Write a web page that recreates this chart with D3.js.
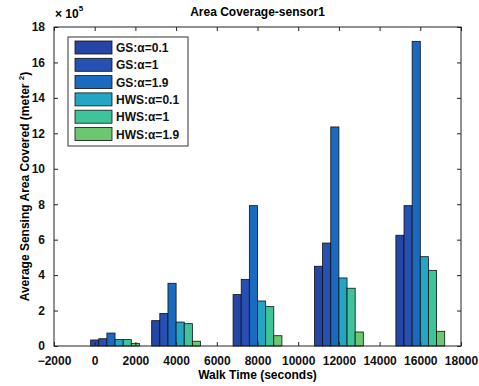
<!DOCTYPE html>
<html>
<head>
<meta charset="utf-8">
<script src="https://cdn.jsdelivr.net/npm/d3@7"></script>
<style>
  body { margin: 0; background: #fff; }
  text { font-family: "Liberation Sans", Arial, sans-serif; font-weight: bold; }
</style>
</head>
<body>
<script>
// Data (units of 1e5 m^2)
const walkTimes = [1000, 4000, 8000, 12000, 16000];
const seriesNames = ["GS:\u03b1=0.1", "GS:\u03b1=1", "GS:\u03b1=1.9", "HWS:\u03b1=0.1", "HWS:\u03b1=1", "HWS:\u03b1=1.9"];
const gs01  = [0.34, 1.43, 2.90, 4.50, 6.25];
const gs1   = [0.41, 1.84, 3.76, 5.81, 7.92];
const gs19  = [0.73, 3.54, 7.92, 12.36, 17.19];
const hws01 = [0.36, 1.35, 2.54, 3.84, 5.04];
const hws1  = [0.36, 1.26, 2.22, 3.26, 4.27];
const hws19 = [0.15, 0.27, 0.58, 0.79, 0.83];
const seriesValues = [gs01, gs1, gs19, hws01, hws1, hws19];
const xTicks = d3.range(-2000, 18001, 2000);
const yTicks = d3.range(0, 19, 2);
const colors = ["#2447a7", "#2650b2", "#1b6ac2", "#22a6c4", "#3ec39a", "#6cc870"];

const W = 479, H = 386;
const margin = { top: 27, right: 18, bottom: 40, left: 54 };
const width = W - margin.left - margin.right,
      height = H - margin.top - margin.bottom;

const svg = d3.select("body").append("svg")
    .attr("width", W).attr("height", H);

const g = svg.append("g")
    .attr("transform", `translate(${margin.left},${margin.top})`);

const x = d3.scaleLinear().domain([-2000, 18000]).range([0, width]);
const y = d3.scaleLinear().domain([0, 18]).range([height, 0]);

// grouped bars: group width 2400, each bar 400
const barW = 400;
const groupW = barW * seriesNames.length;

const rows = [];
walkTimes.forEach((t, i) => {
  seriesValues.forEach((vals, s) => {
    rows.push({ t, s, v: vals[i] });
  });
});

g.selectAll("rect.bar")
  .data(rows)
  .enter().append("rect")
  .attr("class", "bar")
  .attr("x", d => x(d.t - groupW / 2 + d.s * barW))
  .attr("width", d => x(barW) - x(0))
  .attr("y", d => y(d.v))
  .attr("height", d => y(0) - y(d.v))
  .attr("fill", d => colors[d.s])
  .attr("stroke", "#111")
  .attr("stroke-width", 0.8);

// axes
const tickStyle = sel => {
  sel.select(".domain").remove();
  sel.selectAll("line").attr("stroke", "#222");
  sel.selectAll("text")
     .attr("fill", "#111")
     .style("font-size", "12px")
     .style("font-family", "'Liberation Sans', Arial, sans-serif")
     .style("font-weight", "bold");
};

g.append("g")
  .attr("transform", `translate(0,${height})`)
  .call(d3.axisBottom(x).tickValues(xTicks).tickSizeInner(-4).tickSizeOuter(0).tickPadding(10).tickFormat(d3.format("d")))
  .call(tickStyle);

g.append("g")
  .call(d3.axisTop(x).tickValues(xTicks).tickSizeInner(-4).tickSizeOuter(0).tickFormat(""))
  .call(tickStyle);

g.append("g")
  .call(d3.axisLeft(y).tickValues(yTicks).tickSizeInner(-4).tickSizeOuter(0).tickPadding(9))
  .call(tickStyle);

g.append("g")
  .attr("transform", `translate(${width},0)`)
  .call(d3.axisRight(y).tickValues(yTicks).tickSizeInner(-4).tickSizeOuter(0).tickFormat(""))
  .call(tickStyle);

// box
g.append("rect")
  .attr("width", width).attr("height", height)
  .attr("fill", "none").attr("stroke", "#222").attr("stroke-width", 1);

// title and labels
svg.append("text")
  .attr("x", margin.left + width / 2).attr("y", 16)
  .attr("text-anchor", "middle")
  .style("font-size", "12px")
  .text("Area Coverage-sensor1");

svg.append("text")
  .attr("x", margin.left + width / 2).attr("y", 379)
  .attr("text-anchor", "middle")
  .style("font-size", "12px")
  .text("Walk Time (seconds)");

const yl = svg.append("text")
  .attr("transform", `translate(29,${margin.top + height / 2}) rotate(-90)`)
  .attr("text-anchor", "middle")
  .style("font-size", "12px");
yl.append("tspan").text("Average Sensing Area Covered (meter  ");
yl.append("tspan").attr("dy", -5).style("font-size", "8px").text("2");
yl.append("tspan").attr("dy", 5).text(")");

const sc = svg.append("text")
  .attr("x", 55).attr("y", 18)
  .style("font-size", "12px");
sc.append("tspan").text("\u00d7 10");
sc.append("tspan").attr("dy", -7).style("font-size", "8px").text("5");

// legend
const legend = g.append("g")
  .attr("transform", `translate(${68 - margin.left},${37 - margin.top})`);

legend.append("rect")
  .attr("width", 120).attr("height", 109)
  .attr("fill", "#fff").attr("stroke", "#333").attr("stroke-width", 1);

const li = legend.selectAll(".legend-item")
  .data(seriesNames)
  .enter().append("g")
  .attr("class", "legend-item")
  .attr("transform", (d, i) => `translate(7,${4 + i * 17.3})`);

li.append("rect")
  .attr("width", 37).attr("height", 13)
  .attr("fill", (d, i) => colors[i])
  .attr("stroke", "#111").attr("stroke-width", 0.8);

li.append("text")
  .attr("x", 41).attr("y", 11)
  .style("font-size", "12px")
  .attr("fill", "#111")
  .text(d => d);
</script>
</body>
</html>
